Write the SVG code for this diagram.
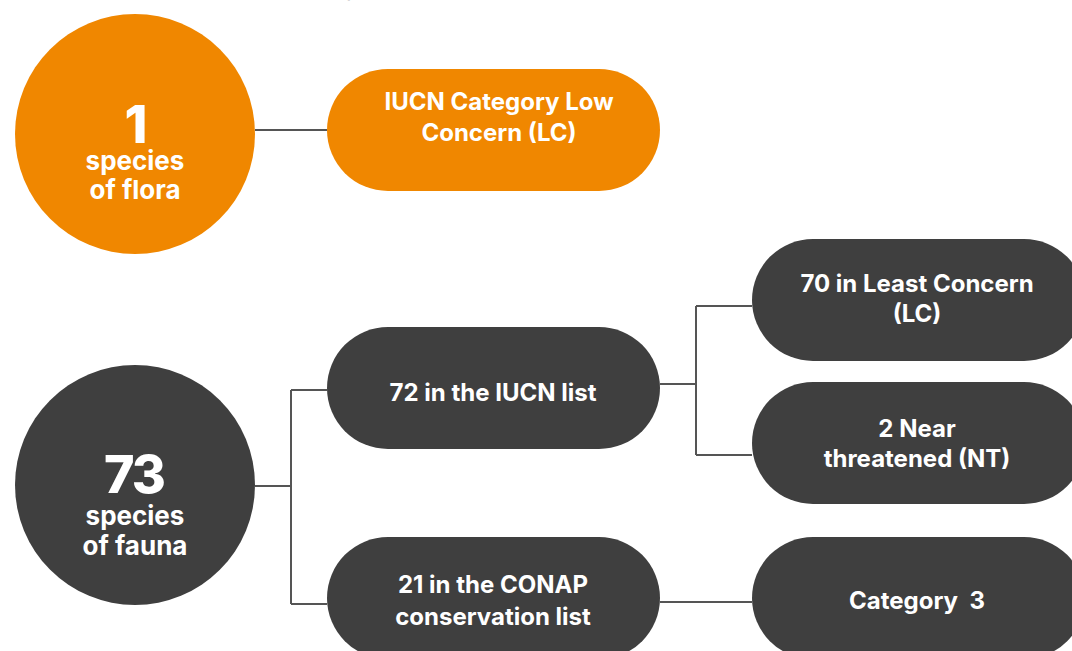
<svg xmlns="http://www.w3.org/2000/svg" width="1072" height="651" viewBox="0 0 1072 651">
  <style>
    .orange { fill: #F08700; }
    .dark { fill: #3F3F3F; }
    .lbl { font-family: Inter, "Liberation Sans", sans-serif; font-weight: 700; fill: #FFFFFF; text-anchor: middle; font-size: 24px; }
    .num { font-size: 52px; font-weight: 800; letter-spacing: -2px; }
    .sub { font-size: 26px; letter-spacing: 0; }
    .wire { fill: none; stroke: #555555; stroke-width: 2; }
  </style>
  <rect width="1072" height="651" fill="#FFFFFF"/>
  <text x="344" y="-3" font-family="Inter, 'Liberation Sans', sans-serif" font-size="16" fill="#666666">g</text>

  <g id="connectors">
    <path class="wire" d="M255 130 H327"/>
    <path class="wire" d="M255 486 H291 M291 390 V604 M291 390 H327 M291 604 H327"/>
    <path class="wire" d="M660 384 H696 M696 306 V455 M696 306 H752 M696 455 H752"/>
    <path class="wire" d="M660 602 H752"/>
  </g>

  <g id="flora">
    <circle class="orange" cx="135" cy="134" r="120"/>
    <text class="lbl"><tspan class="num" x="135" y="143">1</tspan><tspan class="sub" x="135" y="170">species</tspan><tspan class="sub" x="135" y="199">of flora</tspan></text>
  </g>

  <g id="iucn-low">
    <rect class="orange" x="327" y="69" width="333" height="122" rx="61"/>
    <text class="lbl" x="499" y="110">IUCN Category Low</text>
    <text class="lbl" x="499" y="141">Concern (LC)</text>
  </g>

  <g id="fauna">
    <circle class="dark" cx="135" cy="485" r="120"/>
    <text class="lbl"><tspan class="num" x="134" y="493">73</tspan><tspan class="sub" x="135" y="525">species</tspan><tspan class="sub" x="135" y="555">of fauna</tspan></text>
  </g>

  <g id="iucn-list">
    <rect class="dark" x="327" y="327" width="333" height="122" rx="61"/>
    <text class="lbl" x="493" y="401">72 in the IUCN list</text>
  </g>

  <g id="least-concern">
    <rect class="dark" x="752" y="239" width="333" height="122" rx="61"/>
    <text class="lbl" x="917" y="292">70 in Least Concern</text>
    <text class="lbl" x="917" y="322">(LC)</text>
  </g>

  <g id="near-threatened">
    <rect class="dark" x="752" y="382" width="333" height="122" rx="61"/>
    <text class="lbl" x="917" y="437">2 Near</text>
    <text class="lbl" x="917" y="467">threatened (NT)</text>
  </g>

  <g id="conap-list">
    <rect class="dark" x="327" y="537" width="333" height="122" rx="61"/>
    <text class="lbl" x="493" y="593">21 in the CONAP</text>
    <text class="lbl" x="493" y="625">conservation list</text>
  </g>

  <g id="category-3">
    <rect class="dark" x="752" y="537" width="333" height="122" rx="61"/>
    <text class="lbl" x="917" y="609" xml:space="preserve">Category  3</text>
  </g>
</svg>
